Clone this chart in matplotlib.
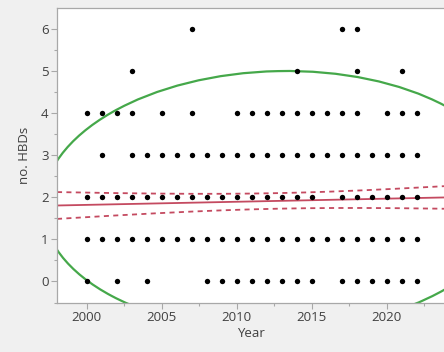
import numpy as np
import matplotlib
matplotlib.use('Agg')
import matplotlib.pyplot as plt
from matplotlib.patches import Ellipse

plt.rcParams['font.family'] = ['Open Sans', 'DejaVu Sans']

# observed (year, no. HBDs) combinations, one list of years per count
years_0 = [2000, 2002, 2004, 2008, 2009, 2010, 2011, 2012, 2013, 2014, 2015,
           2017, 2018, 2019, 2020, 2021, 2022]
years_1 = [2000, 2001, 2002, 2003, 2004, 2005, 2006, 2007, 2008, 2009, 2010, 2011,
           2012, 2013, 2014, 2015, 2016, 2017, 2018, 2019, 2020, 2021, 2022]
years_2 = [2000, 2001, 2002, 2003, 2004, 2005, 2006, 2007, 2008, 2009, 2010, 2011,
           2012, 2013, 2014, 2015, 2017, 2018, 2019, 2020, 2021, 2022]
years_3 = [2001, 2003, 2004, 2005, 2006, 2007, 2008, 2009, 2010, 2011, 2012, 2013,
           2014, 2015, 2016, 2017, 2018, 2019, 2020, 2021, 2022]
years_4 = [2000, 2001, 2002, 2003, 2005, 2007, 2010, 2011, 2012, 2013, 2014, 2015,
           2016, 2017, 2018, 2020, 2021, 2022]
years_5 = [2003, 2014, 2018, 2021]
years_6 = [2007, 2017, 2018]
rows = [years_0, years_1, years_2, years_3, years_4, years_5, years_6]

# linear fit and its confidence band
x_mean = 2012.78
y_mean = 1.915
fit_slope = 0.0074
band_half_at_mean = 0.185
band_growth = 0.00031

# bivariate density ellipse
ell_center = (2012.78, 1.915)
ell_semi_x = 15.71
ell_semi_y = 3.085
ell_angle = 0.423

green = '#45a84a'
red = '#c44a60'
text_col = '#404040'
spine_col = '#a8a8a8'

fig = plt.figure(figsize=(4.44, 3.52), dpi=100)
fig.patch.set_facecolor('#f0f0f0')
ax = fig.add_axes([57 / 444, 49.5 / 352, 1 - 57 / 444, 294.5 / 352])
ax.set_facecolor('white')

xs, ys = [], []
for count, yrs in enumerate(rows):
    xs += yrs
    ys += [count] * len(yrs)
ax.scatter(xs, ys, s=15, color='black', zorder=3, linewidths=0)

xlo, xhi = 1998.02, 2023.82
xx = np.linspace(xlo, xhi, 200)
yy = y_mean + fit_slope * (xx - x_mean)
half = np.sqrt(band_half_at_mean ** 2 + band_growth * (xx - x_mean) ** 2)
ax.plot(xx, yy, color=red, lw=1.3, zorder=2)
ax.plot(xx, yy + half, color=red, lw=1.3, ls=(0, (2.8, 2.4)), zorder=2)
ax.plot(xx, yy - half, color=red, lw=1.3, ls=(0, (2.8, 2.4)), zorder=2)

ell = Ellipse(ell_center, 2 * ell_semi_x, 2 * ell_semi_y, angle=ell_angle,
              fill=False, edgecolor=green, lw=1.6, zorder=2)
ax.add_patch(ell)

ax.set_xlim(xlo, xhi)
ax.set_ylim(-0.5, 6.5)
ax.set_xticks([2000, 2005, 2010, 2015, 2020])
ax.set_xticks([2002.5, 2007.5, 2012.5, 2017.5, 2022.5], minor=True)
ax.set_yticks([0, 1, 2, 3, 4, 5, 6])
ax.set_yticks(np.arange(-0.5, 6.5, 1.0), minor=True)
ax.tick_params(which='major', length=4, width=0.8, color=spine_col,
               labelsize=9.5, labelcolor=text_col, pad=2)
ax.tick_params(which='minor', length=2.5, width=0.8, color=spine_col)

ax.spines['right'].set_visible(False)
for side in ['left', 'bottom', 'top']:
    ax.spines[side].set_color(spine_col)
    ax.spines[side].set_linewidth(0.9)

ax.set_xlabel('Year', fontsize=9.5, color=text_col, labelpad=2)
ax.set_ylabel('no. HBDs', fontsize=9.5, color=text_col, labelpad=7)

fig.savefig('out.png', dpi=100, facecolor=fig.get_facecolor())
